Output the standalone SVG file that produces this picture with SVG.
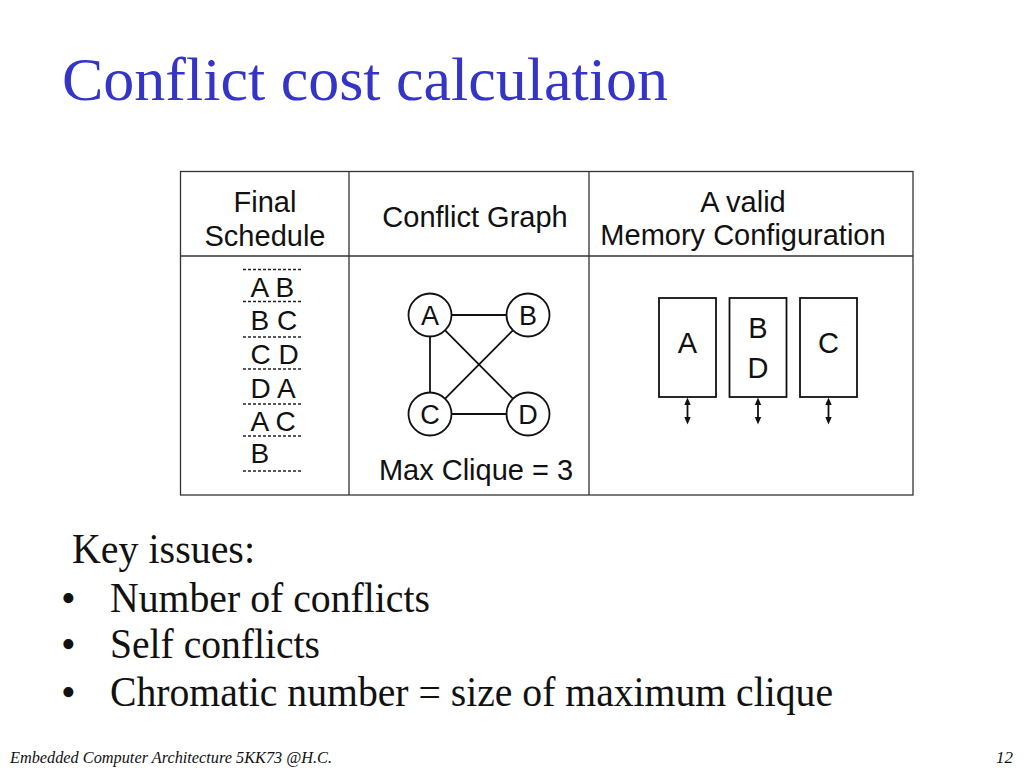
<svg xmlns="http://www.w3.org/2000/svg" width="1024" height="768" viewBox="0 0 1024 768">
  <style>
    .title { font-family: "Liberation Serif", "Times New Roman", serif; font-size: 62px; fill: #3434c6; }
    .sans { font-family: "Liberation Sans", Arial, sans-serif; fill: #111; }
    .hdr { font-size: 29px; text-anchor: middle; }
    .row { font-size: 28px; }
    .node-label { font-size: 27px; text-anchor: middle; }
    .serif { font-family: "Liberation Serif", "Times New Roman", serif; font-size: 42px; fill: #111; }
    .foot { font-family: "Liberation Serif", "Times New Roman", serif; font-style: italic; font-size: 17px; fill: #111; }
    .frame { fill: none; stroke: #333; stroke-width: 1.3; }
    .dots { stroke: #222; stroke-width: 1.3; stroke-dasharray: 3 2; }
    .edge { stroke: #111; stroke-width: 1.8; fill: none; }
    .circ { fill: #fff; stroke: #111; stroke-width: 1.8; }
    .box { fill: #fff; stroke: #111; stroke-width: 1.8; }
    .port { stroke: #111; stroke-width: 1.8; }
    .head { fill: #111; }
  </style>
  <defs>
    <g id="port">
      <line class="port" x1="0" y1="403" x2="0" y2="419"/>
      <polygon class="head" points="0,397.5 -3.2,405 3.2,405"/>
      <polygon class="head" points="0,424.5 -3.2,417 3.2,417"/>
    </g>
  </defs>
  <rect width="1024" height="768" fill="#fff"/>

  <text class="title" x="62" y="100">Conflict cost calculation</text>

  <g id="table">
    <rect class="frame" x="180.5" y="171.5" width="732.5" height="323.5"/>
    <line class="frame" x1="349" y1="171.5" x2="349" y2="495"/>
    <line class="frame" x1="589" y1="171.5" x2="589" y2="495"/>
    <line class="frame" x1="180.5" y1="256" x2="913" y2="256"/>
  </g>

  <g id="headers">
    <text class="sans hdr" x="265" y="212">Final</text>
    <text class="sans hdr" x="265" y="246">Schedule</text>
    <text class="sans hdr" x="475" y="227">Conflict Graph</text>
    <text class="sans hdr" x="743" y="212">A valid</text>
    <text class="sans hdr" x="743" y="245">Memory Configuration</text>
  </g>

  <g id="schedule">
    <line class="dots" x1="243" y1="269.5" x2="303" y2="269.5"/>
    <line class="dots" x1="243" y1="301.5" x2="303" y2="301.5"/>
    <line class="dots" x1="243" y1="337" x2="303" y2="337"/>
    <line class="dots" x1="243" y1="369" x2="303" y2="369"/>
    <line class="dots" x1="243" y1="404" x2="303" y2="404"/>
    <line class="dots" x1="243" y1="436" x2="303" y2="436"/>
    <line class="dots" x1="243" y1="471" x2="303" y2="471"/>
    <text class="sans row" x="250.5" y="297">A B</text>
    <text class="sans row" x="250.5" y="330">B C</text>
    <text class="sans row" x="250.5" y="364">C D</text>
    <text class="sans row" x="250.5" y="397.5">D A</text>
    <text class="sans row" x="250.5" y="431">A C</text>
    <text class="sans row" x="250.5" y="463">B</text>
  </g>

  <g id="connectors">
    <line class="edge" x1="451.5" y1="315" x2="506.5" y2="315"/>
    <line class="edge" x1="451.5" y1="414" x2="506.5" y2="414"/>
    <line class="edge" x1="430" y1="336.5" x2="430" y2="392.5"/>
    <line class="edge" x1="445.1" y1="330.3" x2="512.9" y2="398.7"/>
    <line class="edge" x1="512.9" y1="330.3" x2="445.1" y2="398.7"/>
  </g>

  <g id="node-A"><circle class="circ" cx="430" cy="315" r="21.5"/><text class="sans node-label" x="430" y="325">A</text></g>
  <g id="node-B"><circle class="circ" cx="528" cy="315" r="21.5"/><text class="sans node-label" x="528" y="325">B</text></g>
  <g id="node-C"><circle class="circ" cx="430" cy="414" r="21.5"/><text class="sans node-label" x="430" y="424">C</text></g>
  <g id="node-D"><circle class="circ" cx="528" cy="414" r="21.5"/><text class="sans node-label" x="528" y="424">D</text></g>

  <text class="sans hdr" x="476" y="480">Max Clique = 3</text>

  <g id="memory">
    <g id="bank-A">
      <rect class="box" x="659" y="298" width="57" height="99"/>
      <text class="sans hdr" x="687.5" y="353">A</text>
      <use href="#port" x="687.5"/>
    </g>
    <g id="bank-BD">
      <rect class="box" x="729.5" y="298" width="57" height="99"/>
      <text class="sans hdr" x="758" y="338">B</text>
      <text class="sans hdr" x="758" y="378">D</text>
      <use href="#port" x="758"/>
    </g>
    <g id="bank-C">
      <rect class="box" x="800" y="298" width="57" height="99"/>
      <text class="sans hdr" x="828.5" y="353">C</text>
      <use href="#port" x="828.5"/>
    </g>
  </g>

  <g id="issues">
    <text class="serif" x="72" y="563" textLength="183" lengthAdjust="spacingAndGlyphs">Key issues:</text>
    <text class="serif" x="61" y="612">•</text>
    <text class="serif" x="110" y="612" textLength="320" lengthAdjust="spacingAndGlyphs">Number of conflicts</text>
    <text class="serif" x="61" y="658">•</text>
    <text class="serif" x="110" y="658" textLength="210" lengthAdjust="spacingAndGlyphs">Self conflicts</text>
    <text class="serif" x="61" y="706">•</text>
    <text class="serif" x="110" y="706" textLength="723" lengthAdjust="spacingAndGlyphs">Chromatic number = size of maximum clique</text>
  </g>

  <g id="footer">
    <text class="foot" x="10" y="763" textLength="322" lengthAdjust="spacingAndGlyphs">Embedded Computer Architecture 5KK73 @H.C.</text>
    <text class="foot" x="1013" y="763" text-anchor="end">12</text>
  </g>
</svg>
